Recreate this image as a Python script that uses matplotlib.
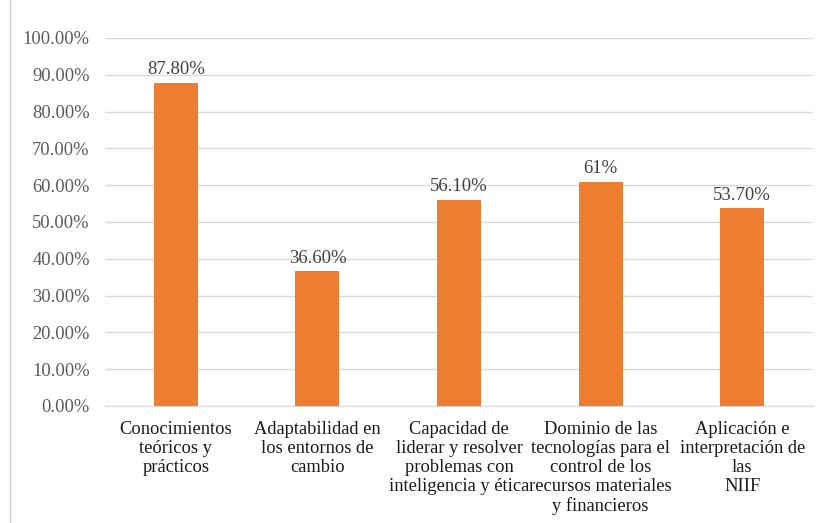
import numpy as np
import matplotlib.pyplot as plt
from matplotlib.lines import Line2D

categories = [
    "Conocimientos\nteóricos y\nprácticos",
    "Adaptabilidad en\nlos entornos de\ncambio",
    "Capacidad de\nliderar y resolver\nproblemas con\ninteligencia y ética",
    "Dominio de las\ntecnologías para el\ncontrol de los\nrecursos materiales\ny financieros",
    "Aplicación e\ninterpretación de\nlas\nNIIF",
]
values = [87.8, 36.6, 56.1, 61.0, 53.7]
value_labels = ["87.80%", "36.60%", "56.10%", "61%", "53.70%"]
yticks = np.arange(0, 101, 10)

plt.rcParams['font.family'] = ['Liberation Serif', 'DejaVu Serif']

fig = plt.figure(figsize=(8.17, 5.23), dpi=100)
ax = fig.add_axes([105 / 817, 1 - 406 / 523, 708 / 817, 368 / 523])

x = np.arange(len(values))
ax.bar(x, values, width=0.31, color="#ED7D31", zorder=3)
for xi, v, lab in zip(x, values, value_labels):
    ax.text(xi, v + 1.2, lab, ha="center", va="bottom", fontsize=13.5, color="#404040")

ax.set_xlim(-0.5, len(values) - 0.5)
ax.set_ylim(0, 100)
ax.set_yticks(yticks)
ax.set_yticklabels([f"{t:.2f}%" for t in yticks], fontsize=13.3, color="#595959")
ax.set_xticks(x)
ax.set_xticklabels(categories, fontsize=13.3, color="#1a1a1a", linespacing=1.16, va="top")
ax.tick_params(axis="both", length=0)
ax.tick_params(axis="y", pad=11)
ax.tick_params(axis="x", pad=10.5)
ax.grid(axis="y", color="#d9d9d9", linewidth=1, zorder=0)
for s in ["top", "right", "left"]:
    ax.spines[s].set_visible(False)
ax.spines["bottom"].set_color("#d9d9d9")

fig.add_artist(Line2D([10 / 817, 10 / 817], [0, 1], color="#d0d0d0", linewidth=1))

fig.savefig("out.png", dpi=100)
